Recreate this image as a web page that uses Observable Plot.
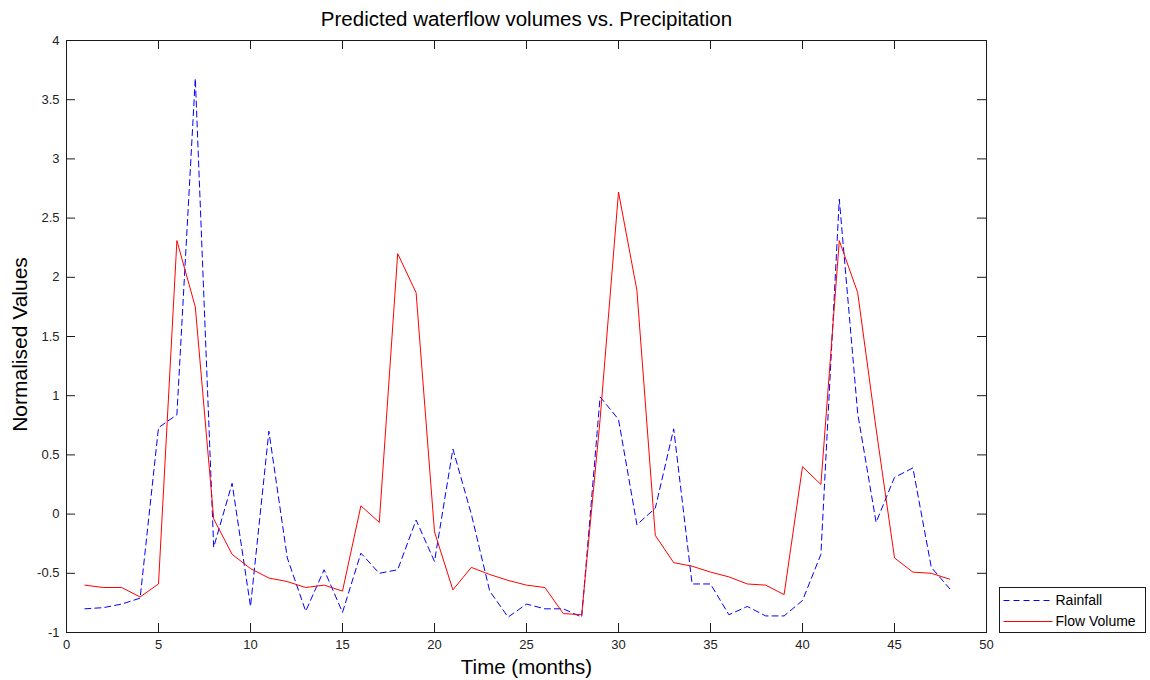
<!DOCTYPE html>
<html>
<head>
<meta charset="utf-8">
<script src="https://cdn.jsdelivr.net/npm/d3@7"></script>
<script src="https://cdn.jsdelivr.net/npm/@observablehq/plot@0.6"></script>
<style>
  html, body { margin: 0; padding: 0; background: #fff; }
  #chart { width: 1150px; height: 680px; }
</style>
</head>
<body>
<div id="chart"></div>
<script>
// ---- data ----
const months = [1,2,3,4,5,6,7,8,9,10,11,12,13,14,15,16,17,18,19,20,21,22,23,24,
                25,26,27,28,29,30,31,32,33,34,35,36,37,38,39,40,41,42,43,44,45,46,47,48];
const rainfall = [-0.80,-0.79,-0.76,-0.71,0.73,0.84,3.68,-0.28,0.26,-0.78,
                  0.70,-0.37,-0.82,-0.47,-0.83,-0.33,-0.50,-0.47,-0.05,-0.40,
                  0.55,0.00,-0.65,-0.87,-0.76,-0.80,-0.80,-0.87,0.99,0.80,
                  -0.09,0.05,0.72,-0.59,-0.59,-0.85,-0.78,-0.86,-0.86,-0.73,
                  -0.34,2.66,0.85,-0.07,0.31,0.39,-0.45,-0.63];
const flowVolume = [-0.60,-0.62,-0.62,-0.70,-0.59,2.31,1.75,-0.04,-0.34,-0.46,
                    -0.54,-0.57,-0.62,-0.60,-0.65,0.07,-0.07,2.20,1.87,-0.15,
                    -0.64,-0.45,-0.51,-0.56,-0.60,-0.62,-0.84,-0.85,0.80,2.72,
                    1.89,-0.18,-0.41,-0.44,-0.49,-0.53,-0.59,-0.60,-0.68,0.40,
                    0.25,2.31,1.87,0.72,-0.37,-0.49,-0.50,-0.55];
const xTicks = [0,5,10,15,20,25,30,35,40,45,50];
const yTicks = [-1,-0.5,0,0.5,1,1.5,2,2.5,3,3.5,4];
const seriesNames = ["Rainfall", "Flow Volume"];
const titleText = "Predicted waterflow volumes vs. Precipitation";
const xLabelText = "Time (months)";
const yLabelText = "Normalised Values";

// ---- layout ----
const W = 1150, H = 680;
const mL = 66, mR = 164, mT = 40, mB = 48;
const innerW = W - mL - mR, innerH = H - mT - mB;
const tickLen = 9;
const font = "'Liberation Sans', Arial, Helvetica, sans-serif";
const axisColor = "#1a1a1a";

const rows = months.map((m, i) => ({month: m, rainfall: rainfall[i], flow: flowVolume[i]}));
const fmt = d => String(d);

const chart = Plot.plot({
  width: W, height: H,
  marginLeft: mL, marginRight: mR, marginTop: mT, marginBottom: mB,
  style: {fontFamily: font, background: "#fff", color: "#000", overflow: "visible"},
  x: {domain: [0, 50]},
  y: {domain: [-1, 4]},
  marks: [
    Plot.frame({stroke: axisColor}),
    // inward ticks on all four sides
    Plot.tickX(xTicks, {x: d => d, insetTop: innerH - tickLen, stroke: axisColor}),
    Plot.tickX(xTicks, {x: d => d, insetBottom: innerH - tickLen, stroke: axisColor}),
    Plot.tickY(yTicks, {y: d => d, insetRight: innerW - tickLen, stroke: axisColor}),
    Plot.tickY(yTicks, {y: d => d, insetLeft: innerW - tickLen, stroke: axisColor}),
    Plot.lineY(rows, {x: "month", y: "rainfall", stroke: "#0000ff", strokeWidth: 1, strokeDasharray: "6,4"}),
    Plot.lineY(rows, {x: "month", y: "flow", stroke: "#ff0000", strokeWidth: 1}),
    Plot.axisX({ticks: xTicks, tickSize: 0, tickPadding: 7, tickFormat: fmt, fontSize: 13, label: null, fill: "#222"}),
    Plot.axisY({ticks: yTicks, tickSize: 0, tickPadding: 7, tickFormat: fmt, fontSize: 13, label: null, fill: "#222"}),
    Plot.text([titleText], {text: d => d, frameAnchor: "top", lineAnchor: "middle", textAnchor: "middle", dy: -21, fontSize: 20.5, fill: "#000"}),
    Plot.text([xLabelText], {text: d => d, frameAnchor: "bottom", lineAnchor: "middle", textAnchor: "middle", dy: 35, fontSize: 20.5, fill: "#000"}),
    Plot.text([yLabelText], {text: d => d, frameAnchor: "left", lineAnchor: "middle", textAnchor: "middle", dx: -46, dy: 8, rotate: -90, fontSize: 21, fill: "#000"})
  ]
});
document.getElementById("chart").appendChild(chart);

// ---- legend (MATLAB-style box in the right margin) ----
const svg = d3.select(chart);
const lg = svg.append("g").attr("transform", "translate(999.5,587.5)");
lg.append("rect").attr("width", 146).attr("height", 45)
  .attr("fill", "#fff").attr("stroke", axisColor);
const legendItems = [
  {name: seriesNames[0], color: "#0000ff", dash: "6,4"},
  {name: seriesNames[1], color: "#ff0000", dash: null}
];
legendItems.forEach((it, i) => {
  const y = 13 + i * 21;
  lg.append("line").attr("x1", 4).attr("x2", 53).attr("y1", y).attr("y2", y)
    .attr("stroke", it.color).attr("stroke-width", 1)
    .attr("stroke-dasharray", it.dash);
  lg.append("text").attr("x", 56).attr("y", y).attr("dy", "0.35em")
    .attr("text-anchor", "start")
    .attr("font-family", font).attr("font-size", 14).attr("fill", "#000")
    .text(it.name);
});
</script>
</body>
</html>
